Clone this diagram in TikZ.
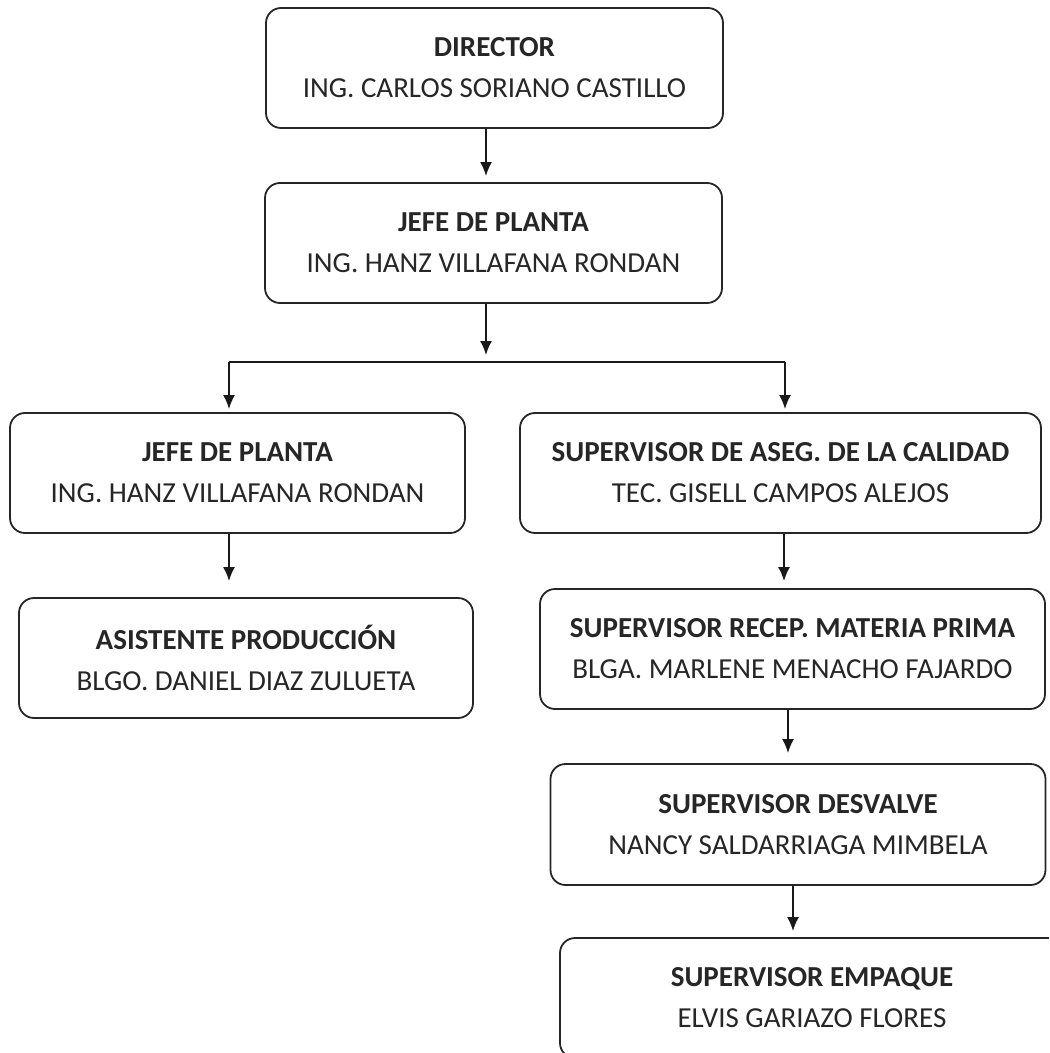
\documentclass[tikz,border=0pt]{standalone}
\usepackage{fontspec}
\setmainfont{Carlito}
\usetikzlibrary{arrows.meta}
\begin{document}
\begin{tikzpicture}[x=0.5pt,y=-0.5pt,
	box/.style={draw=black!85,line width=0.9pt,rounded corners=7.5pt,align=center,text=black!85,
		inner sep=0pt,minimum height=60pt,font=\fontsize{14.5}{20.5}\selectfont},
	arr/.style={draw=black!90,line width=0.9pt,-{Latex[length=7pt,width=6pt]}}]
		\path[use as bounding box,clip] (0,0) rectangle (1049,1053);
		\node[box,minimum width=228.5pt] (v1) at (494.5,68) {\textbf{DIRECTOR}\\ING. CARLOS SORIANO CASTILLO};
		\node[box,minimum width=228.5pt] (v2) at (493.5,243) {\textbf{JEFE DE PLANTA}\\ING. HANZ VILLAFANA RONDAN};
		\coordinate (c1) at (486,0);
		\draw[arr,shorten >=3pt] (v1.south -| c1) -- (v2.north -| c1);
		\coordinate (v9) at (486,355);
		\coordinate (v10) at (229,362);
		\coordinate (v11) at (785,362);
		\draw[arr] (v2.south -| c1) -- (v9);
		\draw[line width=0.9pt,draw=black!90] (v10) -- (v11);
		\node[box,minimum width=227.5pt] (v3) at (237.5,473) {\textbf{JEFE DE PLANTA}\\ING. HANZ VILLAFANA RONDAN};
		\node[box,minimum width=260.5pt] (v4) at (780.5,473) {\textbf{SUPERVISOR DE ASEG. DE LA CALIDAD}\\TEC. GISELL CAMPOS ALEJOS};
		\draw[arr,shorten >=1.5pt] (v10) -- (v10 |- v3.north);
		\draw[arr,shorten >=1.5pt] (v11) -- (v11 |- v4.north);
		\node[box,minimum width=227pt] (v5) at (246,658) {\textbf{ASISTENTE PRODUCCIÓN}\\BLGO. DANIEL DIAZ ZULUETA};
		\node[box,minimum width=252.5pt] (v6) at (792.5,649) {\textbf{SUPERVISOR RECEP. MATERIA PRIMA}\\BLGA. MARLENE MENACHO FAJARDO};
		\draw[arr,shorten >=8pt] (v10 |- v3.south) -- (v10 |- v5.north);
		\coordinate (c2) at (784,0);
		\draw[arr,shorten >=3.5pt] (v4.south -| c2) -- (v6.north -| c2);
		\node[box,minimum width=247.5pt,minimum height=60.5pt] (v7) at (798,824.5) {\textbf{SUPERVISOR DESVALVE}\\NANCY SALDARRIAGA MIMBELA};
		\coordinate (c3) at (788,0);
		\draw[arr,shorten >=5pt] (v6.south -| c3) -- (v7.north -| c3);
		\node[box,minimum width=252pt] (v8) at (812,998) {\textbf{SUPERVISOR EMPAQUE}\\ELVIS GARIAZO FLORES};
		\coordinate (c4) at (793,0);
		\draw[arr,shorten >=3pt] (v7.south -| c4) -- (v8.north -| c4);
		\end{tikzpicture}
\end{document}
